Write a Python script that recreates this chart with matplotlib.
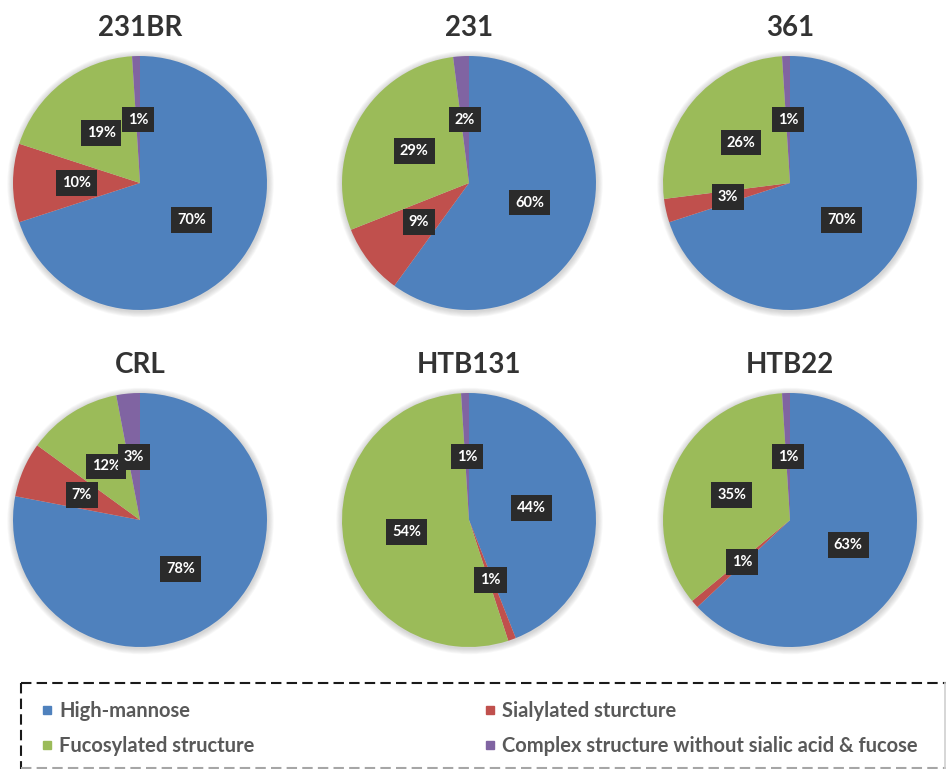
import numpy as np
import matplotlib
matplotlib.use("Agg")
import matplotlib.pyplot as plt
from matplotlib.patches import Circle
from matplotlib.lines import Line2D

plt.rcParams["font.family"] = ["Lato", "DejaVu Sans"]

# ── data ───────────────────────────────────────────────
cell_lines = ["231BR", "231", "361", "CRL", "HTB131", "HTB22"]
categories = ["High-mannose", "Sialylated sturcture", "Fucosylated structure",
              "Complex structure without sialic acid & fucose"]
high_mannose = [70, 60, 70, 78, 44, 63]
sialylated   = [10, 9, 3, 7, 1, 1]
fucosylated  = [19, 29, 26, 12, 54, 35]
complex_nsf  = [1, 2, 1, 3, 1, 1]

COLORS = ["#4F81BD", "#C0504D", "#9BBB59", "#8064A2"]

W, H = 946, 769
R = 127                       # pie radius in px
centres = [(140, 183), (469, 183), (790, 183),
           (140, 520), (469, 520), (790, 520)]
PAD = 1.08

fig = plt.figure(figsize=(W / 100, H / 100), dpi=100)
fig.patch.set_facecolor("white")

for i, name in enumerate(cell_lines):
    cx, cy = centres[i]
    half = R * PAD
    ax = fig.add_axes([(cx - half) / W, 1 - (cy + half) / H,
                       2 * half / W, 2 * half / H])

    vals = [high_mannose[i], sialylated[i], fucosylated[i], complex_nsf[i]]
    wedges, _, autotexts = ax.pie(
        vals, colors=COLORS, startangle=90, counterclock=False,
        radius=1, pctdistance=0.5,
        autopct=lambda p: f"{p:.0f}%",
        wedgeprops=dict(linewidth=0),
        textprops=dict(color="white", fontsize=10.5, fontweight="bold"))
    for w in wedges:
        w.set_zorder(2)
    for t in autotexts:
        t.set_zorder(5)
        t.set_bbox(dict(boxstyle="square,pad=0.4", fc="#2B2B2B",
                        ec="none"))

    # soft halo behind the pie
    for k in range(7, 0, -1):
        ax.add_patch(Circle((0.004, -0.008), 1 + 0.007 * k,
                            color="#808080", alpha=0.05, lw=0, zorder=0))

    ax.set_xlim(-PAD, PAD)
    ax.set_ylim(-PAD, PAD)
    ax.set_aspect("equal")
    ax.axis("off")

    title_y = cy - R - 28
    fig.text(cx / W, 1 - title_y / H, name, ha="center", va="center",
             fontsize=20, fontweight="bold", color="#333333")

# dashed frame around the legend: dark top/left, faded bottom/right
x0, x1 = 21 / W, 945 / W
y0, y1 = 1 - 768 / H, 1 - 683 / H
dash = dict(transform=fig.transFigure, lw=1.5, ls=(0, (5, 2.5)))
fig.lines.append(Line2D([x0, 1.01], [y1, y1], color="#1a1a1a", **dash))
fig.lines.append(Line2D([x0, x0], [y1, -0.01], color="#1a1a1a", **dash))
fig.lines.append(Line2D([x0, 1.01], [y0, y0], color="#a6a6a6", **dash))
fig.lines.append(Line2D([x1, x1], [y1, -0.01], color="#d0d0d0",
                        transform=fig.transFigure, lw=1.2))

handles = [Line2D([], [], marker="s", ls="none", markersize=6,
                  color=c, label=lab) for c, lab in zip(COLORS, categories)]
common = dict(frameon=False, prop=dict(size=14.5, weight="bold"),
              labelcolor="#595959", handlelength=0.55, handletextpad=0.35,
              labelspacing=0.72, borderpad=0, loc="upper left")
fig.legend(handles=[handles[0], handles[2]],
           bbox_to_anchor=(31 / W, 1 - 691 / H), **common)
fig.legend(handles=[handles[1], handles[3]],
           bbox_to_anchor=(474 / W, 1 - 691 / H), **common)

fig.savefig("out.png", dpi=100, facecolor="white")
